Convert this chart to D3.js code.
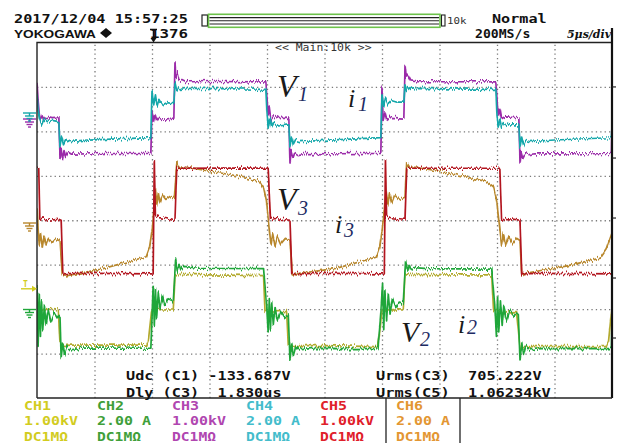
<!DOCTYPE html>
<html>
<head>
<meta charset="utf-8">
<script src="https://cdn.jsdelivr.net/npm/d3@7"></script>
<style>
  html, body { margin: 0; padding: 0; background: #fff; }
  svg { display: block; }
</style>
</head>
<body>
<svg id="scope" width="621" height="443"></svg>
<script>
// ---------------- data ----------------
// Channel table (legend)
const channelNames   = ["CH1", "CH2", "CH3", "CH4", "CH5", "CH6"];
const channelScales  = ["1.00kV", "2.00 A", "1.00kV", "2.00 A", "1.00kV", "2.00 A"];
const channelInputs  = ["DC1MΩ", "DC1MΩ", "DC1MΩ", "DC1MΩ", "DC1MΩ", "DC1MΩ"];
const unitsPerDiv    = [1000, 2, 1000, 2, 1000, 2];        // V/div or A/div

// Measurements
const measureNames  = ["Udc (C1)", "Dly (C3)", "Urms(C3)", "Urms(C5)"];
const measureValues = ["-133.687V", " 1.830us", " 705.222V", " 1.06234kV"];

// Header
const dateStamp   = "2017/12/04 15:57:25";
const recordCount = "1376";
const acqMode     = "Normal";
const sampleRate  = "200MS/s";
const timeBase    = "5μs/div";
const zoomInfo    = "<< Main:10k >>";
const timeRangeUs = [0, 50];
const triggerLevelV = 500;   // CH1 trigger level

// Waveforms: [time µs, value]   (V for voltages, A for currents)
const v2 = [ // CH1
  [0,0],[0.3,40],[0.6,-20],[1.0,20],[1.85,0],
  [2.0,-750],[2.2,-800],[3,-790],[9.54,-790],[9.68,-700],[9.97,0],
  [10.2,20],[11,0],[11.85,0],[12.0,790],[12.3,800],[15,790],[19.7,775],
  [19.83,-30],[20.2,-50],[21,-38],[21.7,-38],
  [21.85,-790],[22.2,-800],[25,-800],[29.6,-825],[29.75,-600],[30.0,0],
  [31,10],[31.85,0],[32.0,825],[32.3,800],[36,790],[39.54,790],
  [39.7,-10],[40.0,-38],[41,-40],[41.7,-38],
  [42.0,-825],[44,-825],[49.5,-825],[49.7,-700],[50,75]
];
const i2 = [ // CH2
  [0,1.3],[0.1,-1.5],[0.2,0.8],[0.3,-1.1],[0.4,0.5],[0.5,-0.8],[0.65,0.3],[0.8,-0.6],[1.0,0.1],[1.2,-0.45],[1.5,-0.05],[1.8,-0.3],[2.0,-0.15],
  [2.1,-2.1],[2.25,-1.4],[2.4,-1.9],[2.6,-1.55],[2.9,-1.7],[4,-1.62],[9.9,-1.63],
  [10.1,1.2],[10.2,-0.6],[10.3,1.0],[10.4,-0.3],[10.55,0.9],[10.7,0.1],[10.9,0.75],[11.1,0.3],[11.4,0.6],[11.85,0.5],
  [12.05,2.34],[12.2,1.85],[12.35,2.15],[12.5,1.9],[12.8,2.05],[14,1.97],[19.7,1.95],
  [20.0,0.1],[20.1,-0.9],[20.2,0.6],[20.3,-0.8],[20.4,0.4],[20.55,-0.6],[20.7,0.2],[20.9,-0.45],[21.2,0.0],[21.5,-0.25],[21.85,-0.13],
  [22.0,-2.16],[22.15,-1.4],[22.3,-1.95],[22.5,-1.55],[22.8,-1.7],[24,-1.64],[29.65,-1.65],
  [29.9,0.0],[30.05,1.29],[30.15,-0.8],[30.25,1.0],[30.4,-0.4],[30.55,0.8],[30.7,-0.1],[30.9,0.6],[31.2,0.2],[31.5,0.45],[31.85,0.39],
  [32.05,2.34],[32.2,1.85],[32.35,2.1],[32.5,1.9],[32.8,2.0],[34,1.95],[39.54,1.93],
  [39.8,0.3],[39.95,-1.1],[40.05,0.7],[40.15,-0.9],[40.3,0.5],[40.45,-0.6],[40.6,0.3],[40.8,-0.4],[41.1,0.1],[41.5,-0.15],[41.85,-0.06],
  [42.0,-2.16],[42.15,-1.4],[42.3,-1.95],[42.5,-1.55],[42.8,-1.7],[44,-1.64],[49.8,-1.65],
  [49.95,-1.6],[50,-0.36]
];
const v1 = [ // CH3
  [0,850],[0.1,420],[0.2,120],[0.35,-40],[0.5,80],[0.7,10],[0.9,50],[1.3,20],[1.9,30],
  [2.0,-880],[2.1,-650],[2.2,-900],[2.35,-700],[2.5,-830],[2.7,-730],[3.0,-780],[6,-765],[9.9,-760],
  [10.0,180],[10.1,-60],[10.25,110],[10.4,-20],[10.6,50],[11.0,10],[11.9,30],
  [12.0,1300],[12.1,950],[12.2,1050],[12.35,880],[12.6,900],[13,850],[16,855],[19.9,845],
  [20.0,500],[20.1,60],[20.2,300],[20.35,0],[20.6,80],[21,20],[21.9,30],
  [22.0,-980],[22.1,-700],[22.25,-850],[22.4,-740],[22.7,-790],[23.2,-765],[26,-770],[29.9,-760],
  [30.0,730],[30.1,-20],[30.25,150],[30.4,0],[30.7,50],[31.9,30],
  [32.0,1220],[32.1,930],[32.25,1000],[32.5,870],[33,850],[36,850],[39.9,845],
  [40.0,450],[40.1,80],[40.25,250],[40.4,20],[40.7,60],[41.9,40],
  [42.0,-980],[42.1,-720],[42.25,-860],[42.45,-750],[42.8,-790],[43.3,-770],[46,-775],[49.8,-765],
  [49.95,-760],[50,30]
];
const i1 = [ // CH4
  [0,1.0],[0.1,0.2],[0.2,-0.1],[0.4,-0.4],[0.6,-0.15],[0.9,-0.3],[1.3,-0.2],[1.9,-0.25],
  [2.0,-1.4],[2.15,-0.9],[2.3,-1.25],[2.5,-1.05],[2.8,-1.15],[4,-1.1],[7,-1.03],[9.9,-0.97],
  [10.0,1.15],[10.15,0.5],[10.3,0.95],[10.45,0.45],[10.6,0.75],[10.9,0.5],[11.3,0.6],[11.9,0.55],
  [12.0,1.5],[12.15,1.15],[12.3,1.3],[12.5,1.2],[13,1.25],[16,1.23],[19.9,1.2],
  [20.0,0.1],[20.1,-0.55],[20.25,-0.1],[20.4,-0.5],[20.6,-0.3],[21,-0.45],[21.9,-0.4],
  [22.0,-1.4],[22.15,-0.95],[22.3,-1.3],[22.5,-1.1],[22.8,-1.15],[25,-1.1],[29.9,-0.97],
  [30.0,0.95],[30.15,0.45],[30.3,0.8],[30.5,0.55],[30.8,0.7],[31.3,0.62],[31.9,0.62],
  [32.0,1.45],[32.15,1.15],[32.3,1.3],[32.5,1.2],[33,1.24],[36,1.22],[39.9,1.2],
  [40.0,0.0],[40.1,-0.5],[40.25,-0.15],[40.4,-0.5],[40.6,-0.3],[41,-0.4],[41.9,-0.4],
  [42.0,-1.4],[42.15,-0.95],[42.3,-1.3],[42.5,-1.1],[42.8,-1.15],[45,-1.08],[49.8,-0.98],
  [49.95,-0.97],[50,-0.55]
];
const v3 = [ // CH5
  [0,1170],[0.15,1170],[0.25,0],[0.5,30],[1.0,0],[1.9,20],
  [2.1,0],[2.25,-1200],[5,-1195],[10.1,-1205],
  [10.2,1360],[10.3,80],[10.6,60],[11.2,40],[11.8,0],
  [12.0,0],[12.15,1170],[16,1175],[20.1,1170],
  [20.3,0],[20.6,40],[21.3,20],[22.0,0],
  [22.15,-1200],[26,-1195],[30.2,-1205],
  [30.3,1360],[30.4,80],[30.7,40],[31.9,0],
  [32.0,0],[32.15,1170],[36,1170],[40.25,1170],
  [40.4,0],[40.8,40],[41.5,20],[42.0,0],
  [42.15,-1200],[46,-1195],[50,-1205]
];
const i3 = [ // CH6
  [0,0.8],[0.1,-0.2],[0.2,-0.9],[0.3,-0.4],[0.45,-1.0],[0.6,-0.5],[0.8,-0.9],[1.0,-0.6],[1.3,-0.8],[1.6,-0.65],[2.0,-0.7],
  [2.2,-2.25],[2.4,-2.3],[5.5,-2.0],[9.5,-1.43],[9.8,-1.0],[10.0,-0.3],[10.15,0.6],
  [10.3,1.6],[10.4,0.9],[10.55,1.45],[10.7,1.0],[10.9,1.35],[11.2,1.15],[11.6,1.3],[11.95,1.2],
  [12.15,2.8],[12.4,2.55],[13.0,2.6],[17.0,2.25],[19.4,1.95],[19.7,1.7],[19.95,1.1],[20.2,-0.2],
  [20.35,-0.9],[20.5,-0.4],[20.7,-0.95],[20.9,-0.5],[21.2,-0.85],[21.6,-0.6],[22.0,-0.7],
  [22.2,-2.25],[22.6,-2.2],[26,-1.95],[29.5,-1.45],[29.8,-1.0],[30.0,-0.3],[30.2,0.6],
  [30.35,1.55],[30.5,0.9],[30.65,1.4],[30.85,1.0],[31.1,1.35],[31.5,1.15],[32.0,1.25],
  [32.15,2.8],[32.4,2.6],[33.0,2.6],[35.9,2.33],[39.1,1.95],[39.7,1.72],[39.97,1.12],[40.26,-0.22],
  [40.4,-0.9],[40.55,-0.4],[40.75,-0.95],[41.0,-0.5],[41.3,-0.85],[41.7,-0.6],[42.0,-0.7],
  [42.15,-2.25],[42.6,-2.16],[46,-1.85],[49.0,-1.49],[49.5,-1.1],[50,-0.36]
];

// Signal names written next to the traces
const signalNames = [["V","1"], ["i","1"], ["V","3"], ["i","3"], ["V","2"], ["i","2"]];

// ---------------- display settings ----------------
const plot = { left: 37, right: 612, top: 42.5, bottom: 398 };
const groundDiv = [-2.02, -2.065, 2.267, 2.346, 0, -0.107];    // vertical position per channel
const traceColor  = ["#b3aa2e", "#1fa63a", "#9b2ba9", "#14a7aa", "#b2141e", "#b8872c"];
const legendColor = ["#d2cc1e", "#3f9f3a", "#b046b0", "#43bccb", "#e0202a", "#e39632"];
const drawOrder = [0, 1, 2, 3, 5, 4];
const traceData = [v2, i2, v1, i1, v3, i3];
const mono = "'DejaVu Sans Mono', 'Liberation Mono', monospace";

const svg = d3.select("#scope");
svg.append("rect").attr("width", 621).attr("height", 443).attr("fill", "#fff");

const x = d3.scaleLinear().domain(timeRangeUs).range([plot.left, plot.right]);
const yDiv = d3.scaleLinear().domain([-4, 4]).range([plot.bottom, plot.top]);
const yOf = (ch, v) => yDiv(v / unitsPerDiv[ch] + groundDiv[ch]);

const defs = svg.append("defs");
defs.append("clipPath").attr("id", "plotClip").append("rect")
  .attr("x", plot.left).attr("y", plot.top)
  .attr("width", plot.right - plot.left).attr("height", plot.bottom - plot.top);

// vertical-only jitter for the acquired traces
drawOrder.forEach((ch, k) => {
  const f = defs.append("filter").attr("id", "jit" + ch)
    .attr("x", -0.02).attr("y", -0.2).attr("width", 1.04).attr("height", 1.4)
    .attr("color-interpolation-filters", "sRGB");
  f.append("feTurbulence").attr("type", "fractalNoise").attr("baseFrequency", "0.8 0.03")
    .attr("numOctaves", 2).attr("seed", 5 + k * 11).attr("result", "n");
  f.append("feColorMatrix").attr("in", "n").attr("type", "matrix")
    .attr("values", "0 0 0 0 0.5  1 0 0 0 0  0 0 0 0 0  0 0 0 0 1").attr("result", "m");
  f.append("feDisplacementMap").attr("in", "SourceGraphic").attr("in2", "m")
    .attr("scale", 7).attr("xChannelSelector", "R").attr("yChannelSelector", "G");
});

// ---------------- graticule ----------------
const gridX = svg.append("g").attr("transform", `translate(0,${plot.bottom})`)
  .call(d3.axisBottom(x).tickValues(d3.range(5, 50, 5))
    .tickSize(-(plot.bottom - plot.top)).tickFormat(""));
const gridY = svg.append("g").attr("transform", `translate(${plot.left},0)`)
  .call(d3.axisLeft(yDiv).tickValues(d3.range(-3, 4, 1))
    .tickSize(-(plot.right - plot.left)).tickFormat(""));
[gridX, gridY].forEach(g => {
  g.select(".domain").remove();
  g.selectAll("line").attr("stroke", "#7a7a7a").attr("stroke-width", 1.3)
    .attr("stroke-dasharray", "1.3,3.1");
});

// ---------------- traces ----------------
const traceLayer = svg.append("g").attr("clip-path", "url(#plotClip)");
drawOrder.forEach(ch => {
  const line = d3.line().x(d => x(d[0])).y(d => yOf(ch, d[1]));
  traceLayer.append("path").datum(traceData[ch])
    .attr("d", line).attr("fill", "none")
    .attr("stroke", traceColor[ch]).attr("stroke-width", 1.7)
    .attr("stroke-linejoin", "round")
    .attr("filter", `url(#jit${ch})`);
});

// ---------------- frame ----------------
svg.append("path")
  .attr("d", `M${plot.left},${plot.bottom}V${plot.top}H${plot.right}`)
  .attr("fill", "none").attr("stroke", "#222").attr("stroke-width", 1.4);
svg.append("line").attr("x1", plot.right).attr("x2", plot.right)
  .attr("y1", 28).attr("y2", plot.bottom)
  .attr("stroke", "#111").attr("stroke-width", 2.2);
svg.append("line").attr("x1", plot.left).attr("x2", plot.right)
  .attr("y1", plot.bottom).attr("y2", plot.bottom)
  .attr("stroke", "#222").attr("stroke-width", 1.4);
// small position ticks on the right border
[3, 1.4, 0.05, -1.3, -2.65].forEach(d => {
  svg.append("line").attr("x1", plot.right).attr("x2", plot.right + 4)
    .attr("y1", yDiv(d)).attr("y2", yDiv(d)).attr("stroke", "#222").attr("stroke-width", 1.2);
});

// ---------------- ground / trigger markers ----------------
function groundMark(ch, dy) {
  const g = yOf(ch, 0) + dy;
  const c = traceColor[ch];
  const m = svg.append("g").attr("stroke", c).attr("stroke-width", 1.4).attr("fill", "none");
  m.append("line").attr("x1", 23).attr("x2", 36).attr("y1", g - 2).attr("y2", g - 2);
  m.append("line").attr("x1", 29.5).attr("x2", 29.5).attr("y1", g - 2).attr("y2", g + 1);
  m.append("line").attr("x1", 25).attr("x2", 34).attr("y1", g + 1).attr("y2", g + 1);
  m.append("line").attr("x1", 26.5).attr("x2", 32.5).attr("y1", g + 3.5).attr("y2", g + 3.5);
  m.append("line").attr("x1", 28).attr("x2", 31).attr("y1", g + 6).attr("y2", g + 6);
}
groundMark(2, 1.5);
groundMark(3, -1);
groundMark(5, 0);
groundMark(1, -0.5);
{
  const ty = yOf(0, triggerLevelV);
  const c = legendColor[0];
  svg.append("text").attr("x", 23).attr("y", ty - 1).attr("font-family", mono)
    .attr("font-size", 8).attr("font-weight", "bold").attr("fill", c).text("T");
  svg.append("line").attr("x1", 21).attr("x2", 33).attr("y1", ty + 1).attr("y2", ty + 1)
    .attr("stroke", c).attr("stroke-width", 1.4);
  svg.append("path").attr("d", `M32,${ty - 2}L37,${ty + 1}L32,${ty + 4}Z`).attr("fill", c);
}

// ---------------- text helpers ----------------
function monoText(parent, x0, y0, str, adv, opts = {}) {
  return parent.append("text")
    .attr("x", x0).attr("y", y0)
    .attr("font-family", mono)
    .attr("font-size", opts.size || 12)
    .attr("font-weight", opts.weight || "bold")
    .attr("fill", opts.fill || "#111")
    .attr("textLength", str.length * adv)
    .attr("lengthAdjust", "spacingAndGlyphs")
    .attr("xml:space", "preserve")
    .style("white-space", "pre")
    .text(str);
}

// ---------------- header ----------------
monoText(svg, 14, 22.7, dateStamp, 9.15, { size: 13 });
svg.append("text").attr("x", 14).attr("y", 37.7)
  .attr("font-family", "'Liberation Sans', Arial, sans-serif").attr("font-weight", "bold")
  .attr("font-size", 11.5).attr("textLength", 82).attr("lengthAdjust", "spacingAndGlyphs")
  .attr("fill", "#111").text("YOKOGAWA");
svg.append("path").attr("d", "M106,28 L112,33 L106,38 L100,33 Z").attr("fill", "#111");
monoText(svg, 150, 37.7, recordCount, 9.5, { size: 13 });
// trigger position marker
svg.append("path").attr("d", "M150,29.5H157M153.5,29.5V38").attr("stroke", "#111").attr("stroke-width", 1.5);
svg.append("path").attr("d", "M150.5,38H156.5L153.5,42.5Z").attr("fill", "#111");

// zoom bar
svg.append("rect").attr("x", 202).attr("y", 15).attr("width", 5.5).attr("height", 11)
  .attr("fill", "#fff").attr("stroke", "#222").attr("stroke-width", 1.2);
svg.append("rect").attr("x", 208.5).attr("y", 14.3).attr("width", 231.5).attr("height", 13)
  .attr("fill", "#fff").attr("stroke", "#6cc24a").attr("stroke-width", 1.6);
[17.6, 20.8, 24.0].forEach(yy => {
  svg.append("line").attr("x1", 209.5).attr("x2", 439).attr("y1", yy).attr("y2", yy)
    .attr("stroke", "#222").attr("stroke-width", 1.1);
});
svg.append("rect").attr("x", 441.5).attr("y", 15).attr("width", 3.5).attr("height", 11)
  .attr("fill", "#fff").attr("stroke", "#222").attr("stroke-width", 1.1);
monoText(svg, 447, 24, "10k", 6.5, { size: 9, weight: "normal", fill: "#333" });

monoText(svg, 492, 22.7, acqMode, 9.1, { size: 12.5 });
monoText(svg, 475, 37.7, sampleRate, 7.9, { size: 12 });
svg.append("text").attr("x", 567).attr("y", 37.7)
  .attr("font-family", "'DejaVu Serif', serif").attr("font-weight", "bold").attr("font-style", "italic")
  .attr("font-size", 11).attr("textLength", 44).attr("lengthAdjust", "spacingAndGlyphs")
  .attr("fill", "#111").text(timeBase);
monoText(svg, 275, 51, zoomInfo, 6.9, { size: 10, weight: "normal", fill: "#333" });

// ---------------- measurements ----------------
const meas = svg.append("g");
monoText(meas, 126, 380, measureNames[0] + " " + measureValues[0], 9.15);
monoText(meas, 126, 396.5, measureNames[1] + " " + measureValues[1], 9.15);
monoText(meas, 376, 380, measureNames[2] + " " + measureValues[2], 9.2);
monoText(meas, 376, 396.5, measureNames[3] + " " + measureValues[3], 9.2);

// ---------------- channel legend ----------------
const legendX = [24, 97, 172, 246, 320, 396];
channelNames.forEach((name, i) => {
  const c = legendColor[i];
  monoText(svg, legendX[i], 410, name, 9, { size: 12, fill: c });
  monoText(svg, legendX[i], 425, channelScales[i], 9, { size: 12, fill: c });
  monoText(svg, legendX[i], 440.5, channelInputs[i], 8.8, { size: 12, fill: c });
});
[386, 460].forEach(xx => {
  svg.append("line").attr("x1", xx).attr("x2", xx).attr("y1", plot.bottom).attr("y2", 443)
    .attr("stroke", "#222").attr("stroke-width", 1.3);
});

// ---------------- signal names ----------------
const namePos = [[277, 97, 298, 100.5, 32], [348, 107, 358, 111, 26],
                 [277, 210, 298, 215, 32], [335, 233, 344, 237, 26],
                 [401, 342, 420, 346, 30], [458, 333, 467, 334, 26]];
signalNames.forEach((s, k) => {
  const p = namePos[k];
  const t = svg.append("g").attr("font-family", "'Liberation Serif', 'Times New Roman', serif")
    .attr("font-style", "italic");
  t.append("text").attr("x", p[0]).attr("y", p[1]).attr("font-size", p[4])
    .attr("fill", "#1a1a1a").text(s[0]);
  t.append("text").attr("x", p[2]).attr("y", p[3]).attr("font-size", 20)
    .attr("fill", "#1d2b63").text(s[1]);
});
</script>
</body>
</html>
